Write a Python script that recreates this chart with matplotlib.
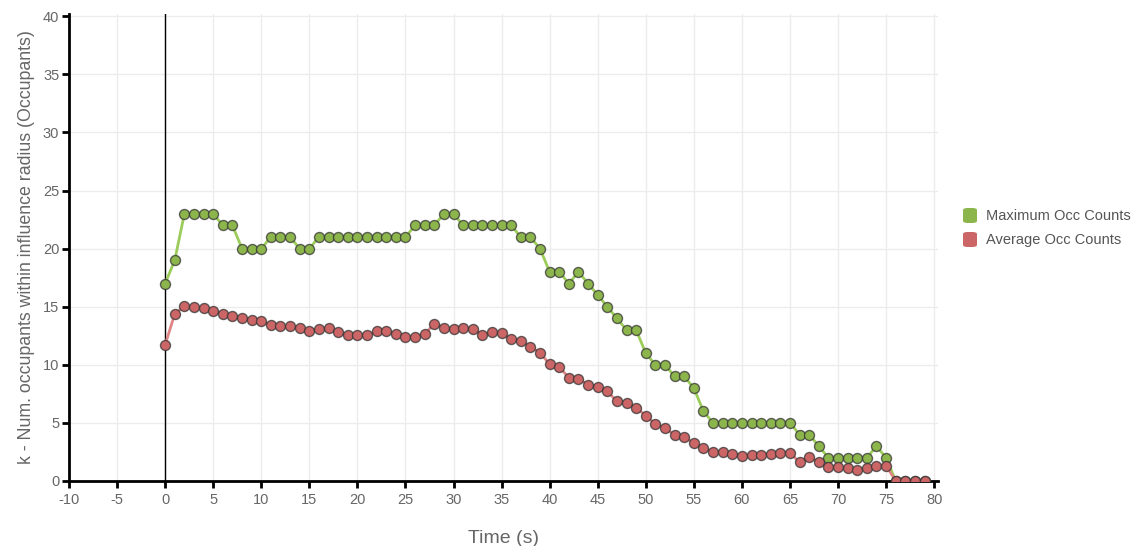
import matplotlib.pyplot as plt
import numpy as np
from matplotlib.patches import FancyBboxPatch

plt.rcParams['font.family'] = ['Liberation Sans', 'DejaVu Sans']
plt.rcParams['axes.unicode_minus'] = False

time_s = np.arange(0, 80)

max_occ = [17, 19, 23, 23, 23, 23, 22, 22, 20, 20,
           20, 21, 21, 21, 20, 20, 21, 21, 21, 21,
           21, 21, 21, 21, 21, 21, 22, 22, 22, 23,
           23, 22, 22, 22, 22, 22, 22, 21, 21, 20,
           18, 18, 17, 18, 17, 16, 15, 14, 13, 13,
           11, 10, 10, 9, 9, 8, 6, 5, 5, 5,
           5, 5, 5, 5, 5, 5, 4, 4, 3, 2,
           2, 2, 2, 2, 3, 2, 0, 0, 0, 0]

avg_occ = [11.7, 14.4, 15.05, 15.0, 14.85, 14.65, 14.4, 14.2, 14.0, 13.9,
           13.75, 13.45, 13.3, 13.3, 13.2, 12.95, 13.05, 13.15, 12.8, 12.55,
           12.55, 12.55, 12.9, 12.9, 12.65, 12.4, 12.4, 12.65, 13.55, 13.2,
           13.1, 13.2, 13.1, 12.6, 12.8, 12.7, 12.25, 12.05, 11.56, 11.04,
           10.05, 9.8, 8.9, 8.78, 8.3, 8.1, 7.72, 6.86, 6.72, 6.31,
           5.62, 4.9, 4.56, 3.96, 3.82, 3.24, 2.81, 2.52, 2.52, 2.32,
           2.18, 2.23, 2.23, 2.32, 2.44, 2.44, 1.6, 2.09, 1.6, 1.23,
           1.17, 1.09, 0.95, 1.09, 1.29, 1.32, 0, 0, 0, 0]

labels = ['Maximum Occ Counts', 'Average Occ Counts']
fill_colors = ['#8cb54c', '#cc6666']
line_colors = ['#9ccc5a', '#e08585']

fig = plt.figure(figsize=(11.38, 5.46), dpi=100)
ax = fig.add_axes([69 / 1138, 65 / 546, 869 / 1138, 467 / 546])

for vals, fc, lc in zip([max_occ, avg_occ], fill_colors, line_colors):
    ax.plot(time_s, vals, color=lc, lw=2, zorder=3)
    ax.plot(time_s, vals, ls='none', marker='o', ms=7.2, mfc=fc,
            mec=(0.2, 0.2, 0.2, 0.75), mew=1.0, zorder=4)

ax.axvline(0, color='black', lw=1, zorder=2)

ax.set_xlim(-10, 80.4)
ax.set_ylim(0, 40.2)
ax.set_xticks(np.arange(-10, 81, 5))
ax.set_yticks(np.arange(0, 41, 5))
ax.grid(True, color='#ececec', lw=1)
ax.set_axisbelow(True)

for s in ['top', 'right']:
    ax.spines[s].set_visible(False)
for s in ['left', 'bottom']:
    ax.spines[s].set_linewidth(2)
    ax.spines[s].set_color('black')

ax.tick_params(axis='both', colors='black', width=2, length=5,
               labelcolor='#666666', labelsize=10.5)
ax.tick_params(axis='x', pad=4)
ax.tick_params(axis='y', pad=2)

ax.set_xlabel('Time (s)', fontsize=14, color='#666666', labelpad=16)
ax.set_ylabel('k - Num. occupants within influence radius (Occupants)',
              fontsize=12.8, color='#666666', labelpad=6)

# legend on the right
for i, (lab, fc) in enumerate(zip(labels, fill_colors)):
    yy = 216 + i * 24
    fig.patches.append(FancyBboxPatch((963 / 1138, (546 - yy - 7) / 546),
                                      14 / 1138, 15 / 546,
                                      boxstyle='round,pad=0,rounding_size=0.004',
                                      transform=fig.transFigure, fc=fc, ec='none'))
    fig.text(986 / 1138, (546 - yy) / 546, lab, fontsize=10.5, color='#555555',
             va='center', ha='left')

fig.savefig('out.png', dpi=100)
